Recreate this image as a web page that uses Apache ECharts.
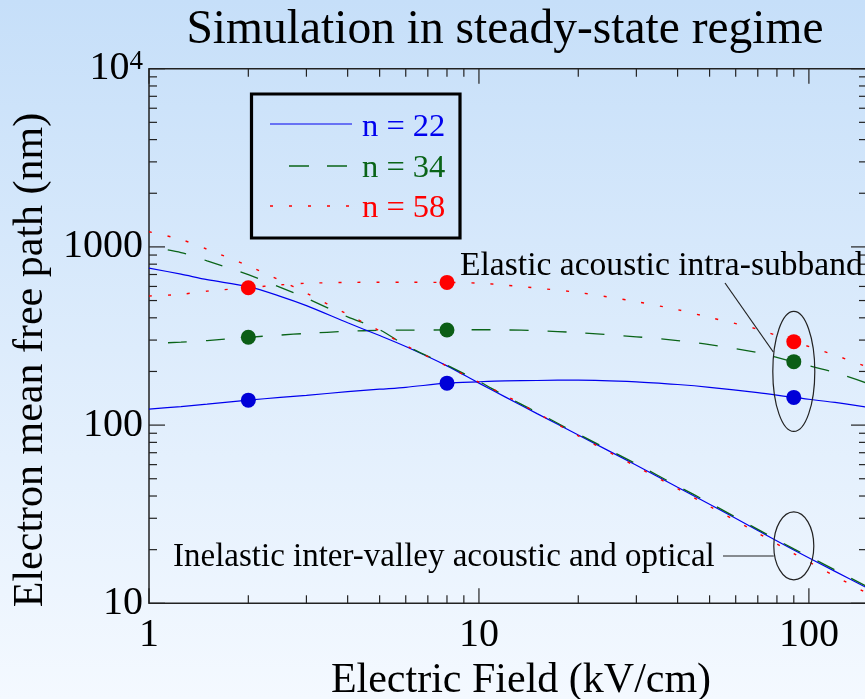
<!DOCTYPE html>
<html>
<head>
<meta charset="utf-8">
<script src="https://cdn.jsdelivr.net/npm/echarts@6/dist/echarts.min.js"></script>
<style>
html,body{margin:0;padding:0;background:#fff;}
#chart{width:865px;height:699px;}
</style>
</head>
<body>
<div id="chart"></div>
<script>
// ---------------- data ----------------
const fields = [1, 1.25, 1.5, 2, 2.5, 3, 4, 5, 6, 8, 10, 12, 15, 20, 30, 40, 50, 70, 90, 120, 150];
const elastic22 = [123, 127, 131, 138, 143, 147, 154, 159, 163, 172, 175, 177, 178, 179, 175, 169, 163, 152, 143, 134, 126];
const elastic34 = [287, 292, 298, 311, 320, 327, 336, 340, 341, 342, 343, 342, 339, 330, 313, 298, 283, 255, 226, 197, 172];
const elastic58 = [530, 542, 565, 590, 612, 625, 632, 633, 633, 632, 626, 610, 587, 555, 493, 444, 402, 345, 294, 247, 212];
const inelastic22 = [760, 703, 655, 598, 528, 468, 375, 318, 276, 215, 172, 144, 116, 88, 59.5, 44.8, 36, 25.6, 19.9, 15.1, 12.2];
const inelastic34 = [1000, 930, 835, 698, 593, 515, 405, 343, 280, 217, 176, 146, 118, 89, 60.5, 45.5, 36.6, 26, 20.2, 15.4, 12.4];
const inelastic58 = [1216, 1100, 970, 782, 648, 550, 418, 338, 280, 214, 174, 147, 117, 87, 58.5, 44, 35, 24.8, 19, 14.2, 11.4];
const dotFields = [2, 8, 90];
const dots22 = [138, 172, 143];
const dots34 = [311, 342, 227];
const dots58 = [590, 632, 294];
const seriesNames = ['n = 22', 'n = 34', 'n = 58'];
const xTickLabels = ['1', '10', '100'];
const yTickLabels = ['10', '100', '1000', '10^4'];
const titleText = 'Simulation in steady-state regime';
const xTitle = 'Electric Field (kV/cm)';
const yTitle = 'Electron mean free path (nm)';
const elasticNote = 'Elastic acoustic intra-subband';
const inelasticNote = 'Inelastic inter-valley acoustic and optical';

// ---------------- styling ----------------
const FONT = '"Liberation Serif", "Times New Roman", serif';
const BLUE = '#0000ee', GREEN = '#0a6418', RED = '#ff0000';
const DOT_BLUE = '#0000d8', DOT_GREEN = '#0b5e16', DOT_RED = '#ff0000';
const pairs = (xs, ys) => xs.map((x, i) => [x, ys[i]]);

const chart = echarts.init(document.getElementById('chart'), null, {renderer: 'canvas'});

function lineSeries(name, ys, color, type, width, offset) {
  return {
    name: name, type: 'line', data: pairs(fields, ys), showSymbol: false, symbol: 'none',
    smooth: 0.3, clip: true,
    lineStyle: {color: color, width: width, type: type, dashOffset: offset || 0}, z: 2
  };
}
function dotSeries(name, ys, color) {
  return {
    name: name, type: 'scatter', data: pairs(dotFields, ys), symbol: 'circle', symbolSize: 15,
    itemStyle: {color: color, opacity: 1}, z: 5
  };
}
function isPow10(v) { const l = Math.log10(v); return Math.abs(l - Math.round(l)) < 1e-6; }

const option = {
  animation: false,
  backgroundColor: {
    type: 'linear', x: 0, y: 0, x2: 0, y2: 1,
    colorStops: [{offset: 0, color: '#c6dff9'}, {offset: 1, color: '#f4f9ff'}]
  },
  grid: {
    left: 149, top: 68.7, width: 718, height: 534.6,
    outerBoundsMode: 'none', containLabel: false,
    show: true, borderColor: '#222', borderWidth: 1.5, backgroundColor: 'transparent'
  },
  xAxis: {
    type: 'log', logBase: 10, min: 1, max: 150,
    name: xTitle, nameLocation: 'middle', nameGap: 50,
    nameTextStyle: {fontFamily: FONT, fontSize: 42, color: '#000', padding: [0, 0, 0, 26]},
    axisLine: {show: false}, axisTick: {show: false}, splitLine: {show: false}, minorTick: {show: false},
    axisLabel: {
      fontFamily: FONT, fontSize: 40, color: '#000', margin: 12,
      formatter: function (v) { return isPow10(v) ? xTickLabels[Math.round(Math.log10(v))] : ''; }
    }
  },
  yAxis: {
    type: 'log', logBase: 10, min: 10, max: 10000,
    name: yTitle, nameLocation: 'middle', nameGap: 86, nameRotate: 90,
    nameTextStyle: {fontFamily: FONT, fontSize: 42, color: '#000', padding: [0, 48, 0, 0]},
    axisLine: {show: false}, axisTick: {show: false}, splitLine: {show: false}, minorTick: {show: false},
    axisLabel: {
      fontFamily: FONT, fontSize: 40, color: '#000', margin: 6,
      formatter: function (v) {
        if (!isPow10(v)) return '';
        const t = yTickLabels[Math.round(Math.log10(v)) - 1];
        const parts = t.split('^');
        return parts.length > 1 ? '{b|' + parts[0] + '}{s|' + parts[1] + '}' : '{b|' + t + '}';
      },
      rich: {
        b: {fontFamily: FONT, fontSize: 40, color: '#000'},
        s: {fontFamily: FONT, fontSize: 27, color: '#000', verticalAlign: 'top'}
      }
    }
  },
  series: [
    lineSeries(seriesNames[0] + ' elastic', elastic22, BLUE, 'solid', 1.2),
    lineSeries(seriesNames[1] + ' elastic', elastic34, GREEN, [19, 19], 1.3, 19),
    lineSeries(seriesNames[2] + ' elastic', elastic58, RED, [3, 16], 1.4),
    lineSeries(seriesNames[0] + ' inelastic', inelastic22, BLUE, 'solid', 1.2),
    lineSeries(seriesNames[1] + ' inelastic', inelastic34, GREEN, [19, 19], 1.3, 19),
    lineSeries(seriesNames[2] + ' inelastic', inelastic58, RED, [3, 16], 1.4),
    dotSeries(seriesNames[0], dots22, DOT_BLUE),
    dotSeries(seriesNames[1], dots34, DOT_GREEN),
    dotSeries(seriesNames[2], dots58, DOT_RED)
  ]
};
chart.setOption(option);

// ---------------- decorations: ticks, legend, annotations ----------------
function seg(x1, y1, x2, y2, stroke, w, dash) {
  return {type: 'line', silent: true, z: 10,
    shape: {x1: x1, y1: y1, x2: x2, y2: y2},
    style: {stroke: stroke || '#222', lineWidth: w || 1.2, lineDash: dash || null}};
}
function txt(x, y, text, size, color, align) {
  return {type: 'text', silent: true, z: 10, x: x, y: y,
    style: {text: text, fontFamily: FONT, fontSize: size, fill: color || '#000',
      align: align || 'left', verticalAlign: 'middle', textAlign: align || 'left', textVerticalAlign: 'middle'}};
}
const P = (x, y) => chart.convertToPixel({gridIndex: 0}, [x, y]);
const g = [];
const bl = P(1, 10), tr = P(150, 10000);
// x ticks (bottom + top mirror)
for (let d = 0; d <= 2; d++) {
  for (let m = 1; m <= 9; m++) {
    const v = m * Math.pow(10, d);
    if (v > 150) break;
    const px = P(v, 10)[0];
    const len = m === 1 ? 15 : 8;
    g.push(seg(px, bl[1], px, bl[1] - len));
    g.push(seg(px, tr[1], px, tr[1] + len));
  }
}
// y ticks (left + right mirror)
for (let d = 1; d <= 4; d++) {
  for (let m = 1; m <= 9; m++) {
    const v = m * Math.pow(10, d);
    if (v > 10000) break;
    const py = P(1, v)[1];
    const len = m === 1 ? 16 : 8;
    g.push(seg(bl[0], py, bl[0] + len, py));
    g.push(seg(tr[0], py, tr[0] - len, py));
  }
}
// title
g.push(txt(505, 31, titleText, 47.5, '#000', 'center'));
// legend box
g.push({type: 'rect', silent: true, z: 10, shape: {x: 251.5, y: 94, width: 208.5, height: 144},
  style: {fill: 'none', stroke: '#000', lineWidth: 3.2}});
g.push(seg(270, 124, 352, 124, BLUE, 1.2));
g.push(seg(289, 166, 348, 166, GREEN, 1.3, [20, 18]));
g.push(seg(270, 206, 352, 206, RED, 1.4, [3, 16]));
g.push(txt(362, 127, seriesNames[0], 32.5, BLUE));
g.push(txt(362, 168, seriesNames[1], 32.5, GREEN));
g.push(txt(362, 208, seriesNames[2], 32.5, RED));
// annotations
const e1 = P(90, 200), e2 = P(90, 21);
g.push({type: 'ellipse', silent: true, z: 10, shape: {cx: e1[0], cy: e1[1], rx: 21, ry: 60},
  style: {fill: 'none', stroke: '#222', lineWidth: 1.2}});
g.push({type: 'ellipse', silent: true, z: 10, shape: {cx: e2[0], cy: e2[1], rx: 20, ry: 34},
  style: {fill: 'none', stroke: '#222', lineWidth: 1.2}});
g.push(txt(460, 266, elasticNote, 33.6, '#000'));
g.push(seg(725, 283, e1[0] - 20.5, 352, '#222', 1.2));
g.push(txt(173, 557, inelasticNote, 33, '#000'));
g.push(seg(723, 556, e2[0] - 20, 556, '#222', 1.2));

chart.setOption({graphic: g});
</script>
</body>
</html>
